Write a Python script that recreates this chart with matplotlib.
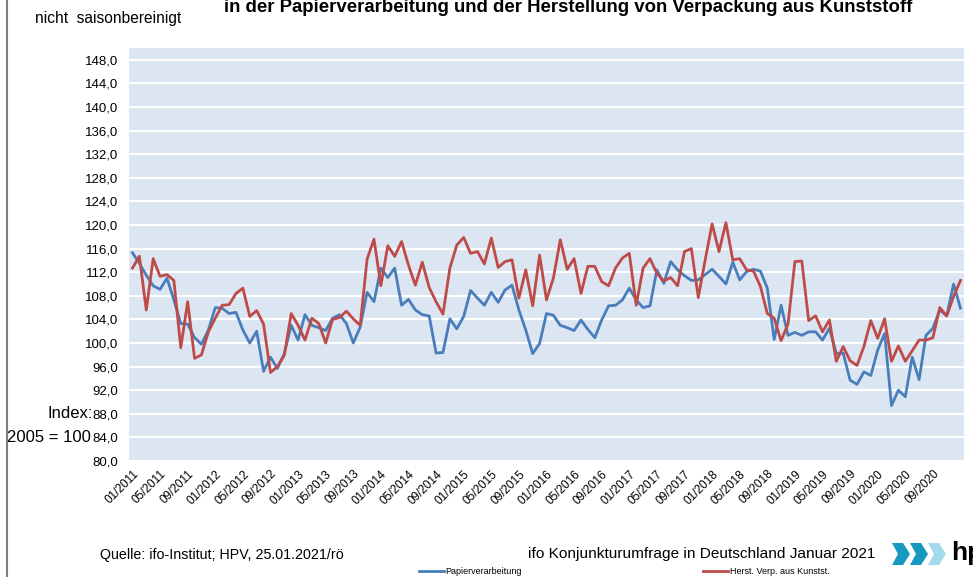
import matplotlib
matplotlib.use("Agg")
import matplotlib.pyplot as plt
from matplotlib.lines import Line2D
from matplotlib.patches import Polygon
import numpy as np

plt.rcParams['font.family'] = ['Liberation Sans', 'DejaVu Sans']

# monthly index values 01/2011 .. 01/2021 (2005 = 100)
papier = [115.3, 113.5, 111.5, 109.7, 109.1, 111.0, 107.3, 103.3, 103.2, 100.9,
          99.8, 102.2, 106.0, 105.9, 105.0, 105.2, 102.2, 100.0, 102.0, 95.2,
          97.6, 95.7, 98.2, 103.0, 100.5, 104.8, 103.0, 102.6, 102.1, 104.2,
          104.8, 103.3, 100.0, 102.7, 108.6, 107.0, 112.7, 111.1, 112.7, 106.4,
          107.4, 105.6, 104.8, 104.6, 98.3, 98.4, 104.1, 102.4, 104.5, 108.9,
          107.6, 106.4, 108.6, 106.9, 109.0, 109.8, 105.6, 102.2, 98.2, 99.9,
          105.0, 104.7, 103.0, 102.6, 102.1, 103.9, 102.3, 100.9, 103.9, 106.3,
          106.4, 107.3, 109.3, 107.3, 106.0, 106.3, 112.4, 110.1, 113.8, 112.4,
          111.4, 110.6, 110.7, 111.6, 112.5, 111.3, 110.0, 113.7, 110.7, 112.1,
          112.5, 112.2, 109.3, 100.6, 106.4, 101.3, 101.8, 101.3, 101.9, 101.9,
          100.5, 102.5, 98.2, 98.3, 93.7, 93.0, 95.1, 94.5, 98.8, 101.6,
          89.4, 92.0, 90.9, 97.6, 93.8, 101.3, 102.5, 105.6, 104.6, 110.0,
          105.9]
kunststoff = [112.7, 114.7, 105.6, 114.3, 111.3, 111.6, 110.6, 99.2, 107.0, 97.4,
              98.0, 101.9, 104.2, 106.4, 106.5, 108.4, 109.3, 104.5, 105.5, 103.2,
              95.0, 96.0, 97.9, 105.0, 103.0, 100.5, 104.2, 103.3, 100.0, 104.0,
              104.3, 105.4, 104.1, 103.0, 114.2, 117.6, 109.7, 116.5, 114.7, 117.2,
              113.2, 109.8, 113.7, 109.4, 107.0, 104.9, 112.7, 116.6, 117.9, 115.2,
              115.5, 113.4, 117.8, 112.8, 113.8, 114.1, 107.6, 112.4, 106.3, 114.9,
              107.3, 111.0, 117.5, 112.5, 114.3, 108.4, 113.0, 113.0, 110.4, 109.7,
              112.7, 114.4, 115.2, 106.4, 112.7, 114.3, 111.8, 110.5, 111.1, 109.7,
              115.5, 116.0, 107.7, 114.1, 120.2, 115.5, 120.4, 114.1, 114.3, 112.4,
              112.2, 109.6, 105.0, 104.2, 100.4, 103.2, 113.8, 113.9, 103.8, 104.6,
              101.9, 103.9, 96.9, 99.4, 97.0, 96.2, 99.4, 103.8, 100.8, 104.1,
              96.9, 99.5, 96.9, 98.7, 100.5, 100.5, 100.9, 106.0, 104.6, 107.9,
              110.6]

months = ["%02d/%d" % (m, y) for y in range(2011, 2022) for m in range(1, 13)][:121]
tick_idx = list(range(0, 120, 4))

blue = '#4A7EBB'
red = '#BE4B48'

fig = plt.figure(figsize=(9.73, 5.77), dpi=100)
ax = fig.add_axes([0.1326, 0.2010, 0.8581, 0.7158])
ax.set_facecolor('#DCE6F2')

x = np.arange(len(months))
ax.plot(x, papier, color=blue, lw=2.0, label='Papierverarbeitung', solid_joinstyle='round')
ax.plot(x, kunststoff, color=red, lw=2.0, label='Herst. Verp. aus Kunstst.', solid_joinstyle='round')

ax.set_xlim(-0.5, len(months) - 0.5)
ax.set_ylim(80, 150)
yt = np.arange(80, 149, 4)
ax.set_yticks(yt)
ax.set_yticklabels([("%.1f" % v).replace('.', ',') for v in yt], fontsize=9.5)
ax.set_xticks(tick_idx)
ax.set_xticklabels([months[i] for i in tick_idx], rotation=45, ha='right',
                   rotation_mode='anchor', fontsize=8.5)
ax.tick_params(length=0, pad=8)
ax.tick_params(axis='x', pad=5)
ax.grid(axis='y', color='white', lw=1.5)
ax.set_axisbelow(True)
for s in ax.spines.values():
    s.set_visible(False)

# texts
fig.text(35 / 973, 1 - 18 / 577, 'nicht  saisonbereinigt', fontsize=11.2, va='center')
fig.text(568 / 973, 1 - 7 / 577, 'in der Papierverarbeitung und der Herstellung von Verpackung aus Kunststoff',
         fontsize=13.4, fontweight='bold', ha='center', va='center')
fig.text(93 / 973, 1 - 413 / 577, 'Index:', fontsize=12, ha='right', va='center')
fig.text(91 / 973, 1 - 437 / 577, '2005 = 100', fontsize=12, ha='right', va='center')
fig.text(100 / 973, 1 - 555 / 577, 'Quelle: ifo-Institut; HPV, 25.01.2021/rö', fontsize=10.3, va='center')
fig.text(528 / 973, 1 - 554 / 577, 'ifo Konjunkturumfrage in Deutschland Januar 2021', fontsize=11.1, va='center')

fig.legend(loc='center', bbox_to_anchor=(624 / 973, 1 - 572 / 577), ncol=2, frameon=False,
           fontsize=6.5, handlelength=2.8, handletextpad=0.2, columnspacing=20, borderpad=0)

# frame line at the left
fig.add_artist(Line2D([7 / 973, 7 / 973], [0, 1], color='#7f7f7f', lw=1.5))

# logo
for k, c in enumerate(['#1798BE', '#1798BE', '#A3DAEE']):
    x0 = 892 + k * 18
    pts = [(x0, 543), (x0 + 11, 543), (x0 + 18, 554), (x0 + 11, 565), (x0, 565), (x0 + 6, 554)]
    fig.add_artist(Polygon([(px / 973, 1 - py / 577) for px, py in pts], closed=True,
                           facecolor=c, edgecolor='none'))
fig.text(951 / 973, 1 - 553 / 577, 'hp', fontsize=19, fontweight='bold', va='center')

fig.savefig('out.png', dpi=100)
